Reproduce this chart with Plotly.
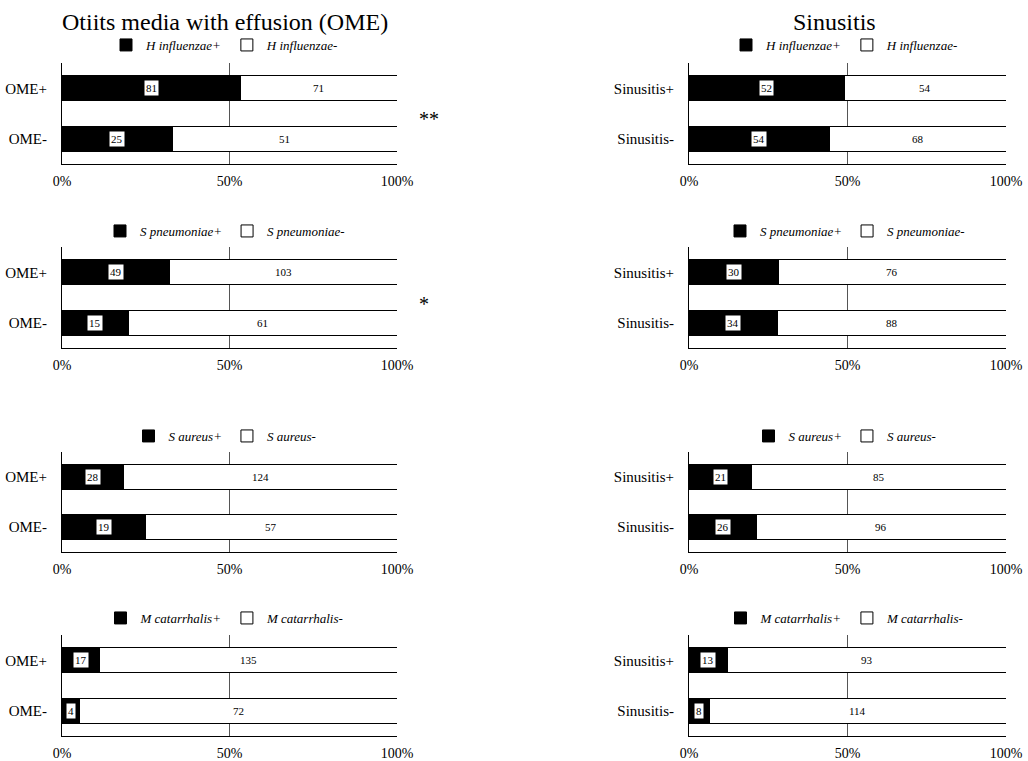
import plotly.graph_objects as go

# ---------------- data ----------------
groups_ome = ["OME+", "OME-"]
groups_sin = ["Sinusitis+", "Sinusitis-"]
organisms = ["H influenzae", "S pneumoniae", "S aureus", "M catarrhalis"]

# counts of organism-positive / organism-negative children, per group [group+, group-]
ome_pos = [[81, 25], [49, 15], [28, 19], [17, 4]]
ome_neg = [[71, 51], [103, 61], [124, 57], [135, 72]]
sin_pos = [[52, 54], [30, 34], [21, 26], [13, 8]]
sin_neg = [[54, 68], [76, 88], [85, 96], [93, 114]]

x_tickvals = [0, 50, 100]
x_ticktext = ["0%", "50%", "100%"]
col_titles = ["Otiits media with effusion (OME)", "Sinusitis"]
ome_signif = ["**", "*", "", ""]

# ---------------- layout geometry (screen pixels) ----------------
W, H = 1028, 761
FONT = "Liberation Serif"
col_px = [(62, 397), (689, 1006)]
row_px = [(63, 164), (247, 348), (452, 552), (635, 736)]
legend_y_px = [45, 231, 436, 618]
legend_x_px = [225, 845]
title_x_px = [225, 834]


def px(x):
    return x / W


def py(y):
    return 1 - y / H


fig = go.Figure()
layout = dict(
    width=W, height=H,
    margin=dict(l=0, r=0, t=0, b=0, autoexpand=False),
    paper_bgcolor="white", plot_bgcolor="white",
    barmode="stack", barnorm="percent",
    showlegend=True,
    font=dict(family=FONT, color="black"),
)
annotations = []

columns = [(groups_ome, ome_pos, ome_neg), (groups_sin, sin_pos, sin_neg)]

for r in range(4):
    for c in range(2):
        k = r * 2 + c
        sfx = "" if k == 0 else str(k + 1)
        xa, ya = "x" + sfx, "y" + sfx
        lg = "legend" + sfx
        groups, pos, neg = columns[c]
        org = organisms[r]
        vals_p = pos[r]
        vals_n = neg[r]

        fig.add_trace(go.Bar(
            y=groups, x=vals_p, orientation="h", width=0.5,
            name=f"<i>{org}+</i>",
            marker=dict(color="black", line=dict(color="black", width=1)),
            xaxis=xa, yaxis=ya, legend=lg, hoverinfo="skip",
        ))
        fig.add_trace(go.Bar(
            y=groups, x=vals_n, orientation="h", width=0.5,
            name=f"<i>{org}-</i>",
            marker=dict(color="white", line=dict(color="black", width=1)),
            xaxis=xa, yaxis=ya, legend=lg, hoverinfo="skip",
        ))

        # value labels in white boxes, centred in each segment
        for g, vp, vn in zip(groups, vals_p, vals_n):
            tot = vp + vn
            for centre, v in ((vp / 2 / tot * 100, vp), ((vp + vn / 2) / tot * 100, vn)):
                annotations.append(dict(
                    x=centre, y=g, xref=xa, yref=ya, text=str(v), showarrow=False,
                    font=dict(family=FONT, size=11, color="black"),
                    bgcolor="white", borderpad=1,
                ))

        x0, x1 = col_px[c]
        y0, y1 = row_px[r]
        layout["xaxis" + sfx] = dict(
            domain=[px(x0), px(x1)], anchor=ya, range=[0, 100],
            tickvals=x_tickvals, ticktext=x_ticktext,
            showgrid=True, gridcolor="#555555", gridwidth=1,
            showline=True, linecolor="black", linewidth=1,
            zeroline=False, ticks="", ticklabelstandoff=4,
            tickfont=dict(family=FONT, size=14, color="black"),
            automargin=False, fixedrange=True,
        )
        layout["yaxis" + sfx] = dict(
            domain=[py(y1), py(y0)], anchor=xa, type="category",
            categoryorder="array", categoryarray=groups,
            range=[1.5, -0.5],
            showgrid=False, showline=True, linecolor="black", linewidth=1,
            zeroline=False, ticks="", ticklabelstandoff=11,
            tickfont=dict(family=FONT, size=15, color="black"),
            automargin=False, fixedrange=True,
        )
        layout[lg] = dict(
            orientation="h", x=px(legend_x_px[c]), xanchor="center",
            y=py(legend_y_px[r]), yanchor="middle",
            font=dict(family=FONT, size=13, color="black"),
            bgcolor="rgba(0,0,0,0)", itemwidth=30, traceorder="normal",
            itemclick=False, itemdoubleclick=False,
        )

        if c == 0 and ome_signif[r]:
            annotations.append(dict(
                x=px(417), xref="paper", xanchor="left",
                y=0.5, yref=ya, yanchor="middle", yshift=-6,
                text=ome_signif[r], showarrow=False,
                font=dict(family=FONT, size=20, color="black"),
            ))

for c in range(2):
    annotations.append(dict(
        x=px(title_x_px[c]), y=py(22), xref="paper", yref="paper",
        xanchor="center", yanchor="middle", text=col_titles[c], showarrow=False,
        font=dict(family=FONT, size=24, color="black"),
    ))

layout["annotations"] = annotations
fig.update_layout(**layout)
# remove the page's default 8px body margin so the 1028x761 figure fills the window
fig.write_html(
    "out.html",
    config={"displayModeBar": False, "staticPlot": False},
    post_script="document.body.style.margin='0';",
)
